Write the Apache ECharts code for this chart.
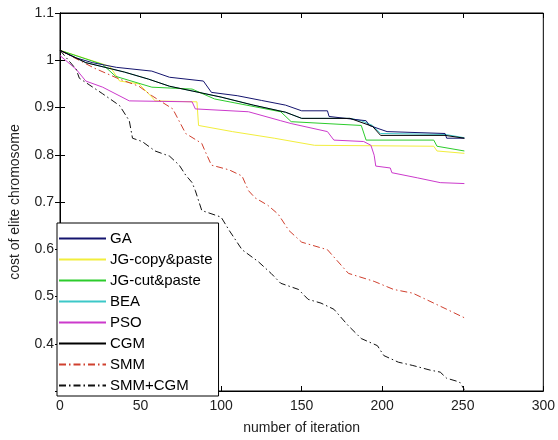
<!DOCTYPE html>
<html><head><meta charset="utf-8">
<script src="https://cdn.jsdelivr.net/npm/echarts@6/dist/echarts.min.js"></script>
<style>html,body{margin:0;padding:0;background:#fff}#c{width:558px;height:440px}</style>
</head><body><div id="c"></div>
<script>
const seriesNames = ['GA','JG-copy&paste','JG-cut&paste','BEA','PSO','CGM','SMM','SMM+CGM'];
const xTicks = [0,50,100,150,200,250,300];
const yTicks = [0.3,0.4,0.5,0.6,0.7,0.8,0.9,1.0,1.1];

const GA = [[0,1.021],[10,1.005],[20,0.995],[35,0.985],[57,0.977],[68,0.964],[89,0.956],[94,0.932],[110,0.925],[125,0.915],[140,0.905],[150,0.893],[166,0.893],[167,0.881],[190,0.872],[192,0.862],[203,0.849],[239,0.845],[240,0.835],[251,0.835]];
const JGcopy = [[0,1.021],[31,0.987],[37,0.956],[49,0.950],[57,0.922],[59,0.914],[85,0.912],[86,0.862],[107,0.849],[133,0.835],[158,0.820],[232,0.818],[234,0.808],[251,0.803]];
const JGcut = [[0,1.021],[26.5,0.991],[34.5,0.966],[57,0.943],[82,0.939],[96,0.918],[137,0.891],[143.5,0.870],[187,0.862],[190,0.831],[232,0.831],[234,0.818],[251,0.808]];
const BEA = [[0,1.021],[16,0.995],[40,0.975],[55,0.960],[68,0.945],[82,0.935],[100,0.922],[120,0.905],[140,0.890],[150,0.877],[180,0.877],[187,0.872],[194,0.862],[199,0.845],[239,0.843],[251,0.836]];
const PSO = [[0,1.010],[10,0.981],[16,0.956],[26.5,0.943],[43,0.914],[82,0.912],[84,0.897],[117,0.891],[137,0.872],[143.5,0.866],[166,0.849],[170,0.831],[188.5,0.828],[193,0.820],[195,0.799],[196,0.776],[205,0.772],[206,0.762],[222,0.751],[236,0.741],[251,0.739]];
const CGM = [[0,1.021],[16,0.995],[40,0.975],[55,0.960],[68,0.945],[82,0.935],[100,0.922],[120,0.905],[140,0.890],[150,0.877],[180,0.877],[194,0.860],[199,0.841],[239,0.841],[251,0.835]];
const SMM = [[0,1.021],[21.5,0.983],[37,0.960],[49,0.945],[57,0.925],[70,0.897],[78,0.845],[88,0.824],[90,0.808],[94,0.778],[105,0.768],[113,0.755],[117,0.724],[121,0.709],[129,0.693],[135.5,0.674],[142,0.640],[150,0.615],[166,0.599],[179,0.549],[195,0.532],[207,0.515],[219,0.507],[232,0.486],[240,0.473],[251,0.455]];
const SMMCGM = [[0,1.021],[10,0.981],[12,0.962],[26.5,0.929],[37,0.904],[43,0.872],[45,0.835],[51,0.828],[59,0.808],[68,0.797],[74,0.778],[78,0.757],[82,0.741],[84,0.724],[88,0.682],[100,0.668],[105,0.640],[113,0.599],[123,0.574],[131,0.549],[137,0.528],[148,0.515],[154,0.494],[162,0.486],[170,0.473],[179,0.438],[187,0.411],[197,0.396],[201,0.375],[210,0.361],[219,0.354],[230,0.344],[236,0.340],[240,0.327],[248,0.319],[251,0.303]];

const dataSets = [GA, JGcopy, JGcut, BEA, PSO, CGM, SMM, SMMCGM];
const colors = ['#14146e','#f2ee3c','#2ccc2c','#3cc8c8','#cc3acc','#000000','#d0402e','#111111'];
const dashDot = [7,3,1.5,3];
const lineTypes = ['solid','solid','solid','solid','solid','solid',dashDot,dashDot];
const drawOrder = [3,1,2,4,6,7,0,5];

const chart = echarts.init(document.getElementById('c'), null, {renderer:'canvas'});
const font = 'Liberation Sans, Arial, sans-serif';
const series = seriesNames.map((n,i)=>({
  name:n, type:'line', data:dataSets[i], symbol:'none', showSymbol:false,
  lineStyle:{color:colors[i], width:1, type:lineTypes[i]}, itemStyle:{color:colors[i]},
  z: 2 + drawOrder.indexOf(i), animation:false
}));
const fmt = v => String(+(+v).toFixed(1));
chart.setOption({
  animation:false,
  backgroundColor:'#fff',
  grid:{left:57, right:14, top:13, bottom:44, show:true, borderColor:'#000', borderWidth:1, backgroundColor:'transparent'},
  legend:{
    data:seriesNames, orient:'vertical', left:57, top:223,
    itemWidth:47, itemHeight:14, itemGap:6,
    padding:[8,6,3,1], backgroundColor:'#fff', borderColor:'#000', borderWidth:1,
    itemStyle:{opacity:0},
    textStyle:{fontFamily:font, fontSize:15, lineHeight:14, color:'#000', padding:[0,0,0,-1]},
    z:50
  },
  xAxis:[{
    type:'value', min:xTicks[0], max:xTicks[xTicks.length-1], interval:50,
    name:'number of iteration', nameLocation:'middle', nameGap:30,
    nameTextStyle:{fontFamily:font, fontSize:14, color:'#222'},
    axisLine:{show:true, onZero:false, lineStyle:{color:'#000'}},
    axisTick:{show:true, inside:true, length:5, lineStyle:{color:'#000'}},
    axisLabel:{fontFamily:font, fontSize:14, color:'#222', margin:8},
    splitLine:{show:false}
  },{
    type:'value', position:'top', min:xTicks[0], max:xTicks[xTicks.length-1], interval:50,
    axisLine:{show:true, lineStyle:{color:'#000'}},
    axisTick:{show:true, inside:true, length:5, lineStyle:{color:'#000'}},
    axisLabel:{show:false}, splitLine:{show:false}
  }],
  yAxis:[{
    type:'value', min:yTicks[0], max:yTicks[yTicks.length-1], interval:0.1,
    name:'cost of elite chromosome', nameLocation:'middle', nameGap:38,
    nameTextStyle:{fontFamily:font, fontSize:14, color:'#222'},
    axisLine:{show:true, onZero:false, lineStyle:{color:'#000'}},
    axisTick:{show:true, inside:true, length:5, lineStyle:{color:'#000'}},
    axisLabel:{fontFamily:font, fontSize:14, color:'#222', margin:6, showMinLabel:false, formatter:fmt},
    splitLine:{show:false}
  },{
    type:'value', position:'right', min:yTicks[0], max:yTicks[yTicks.length-1], interval:0.1,
    axisLine:{show:true, lineStyle:{color:'#000'}},
    axisTick:{show:true, inside:true, length:5, lineStyle:{color:'#000'}},
    axisLabel:{show:false}, splitLine:{show:false}
  }],
  series: series
});
</script></body></html>
